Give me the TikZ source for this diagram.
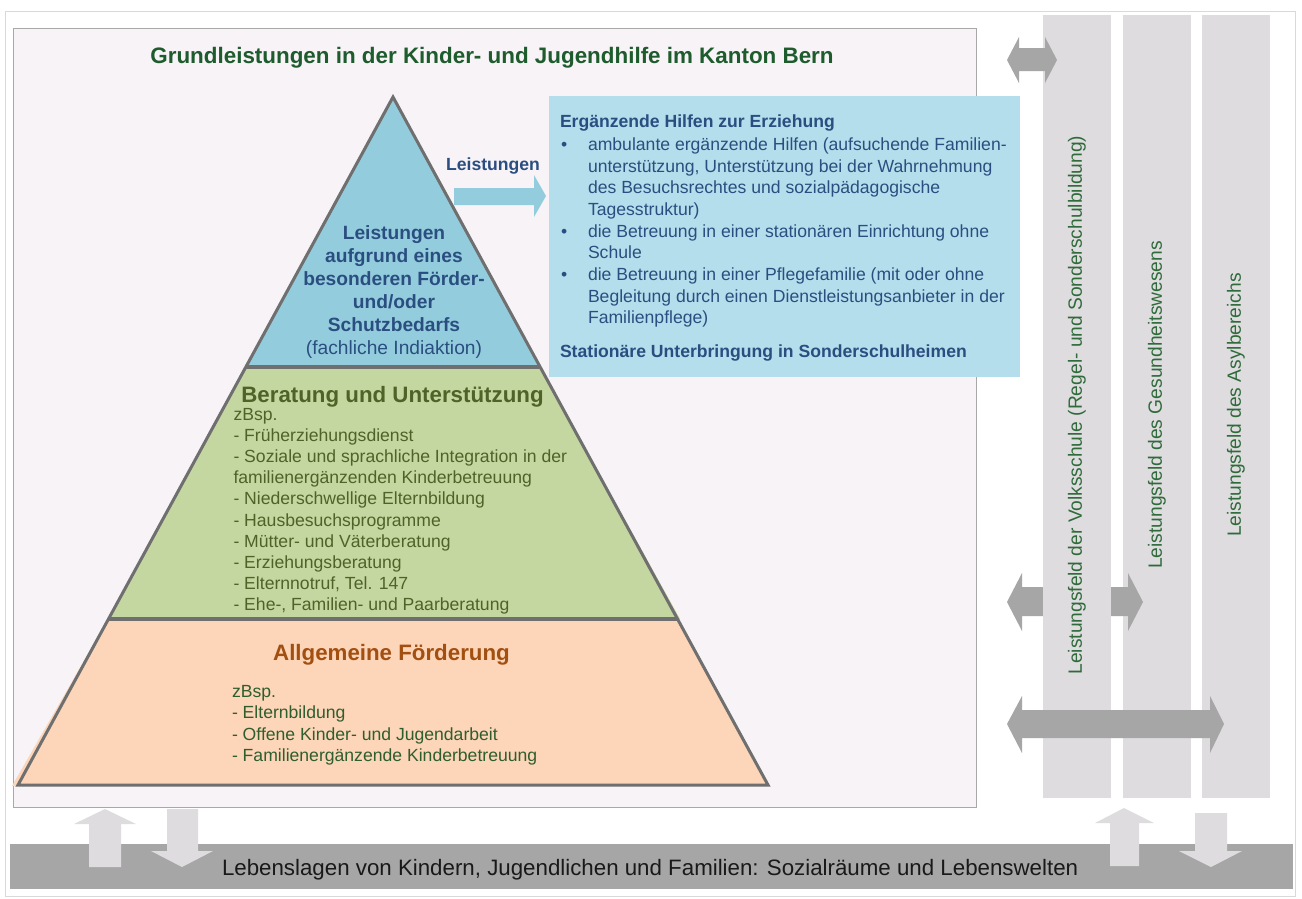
\documentclass[tikz,border=0pt]{standalone}
\usepackage{fontspec}
\setmainfont{Liberation Sans}
\definecolor{framecol}{HTML}{D9D9D9}
\definecolor{panelbg}{HTML}{F7F3F7}
\definecolor{panelline}{HTML}{A8A8A8}
\definecolor{colgray}{HTML}{DEDCDF}
\definecolor{arrgray}{HTML}{A6A6A6}
\definecolor{pyrblue}{HTML}{93CDDD}
\definecolor{pyrgreen}{HTML}{C5D7A0}
\definecolor{pyrorange}{HTML}{FDD5B8}
\definecolor{boxblue}{HTML}{B5DEEC}
\definecolor{outline}{HTML}{6F6F6F}
\definecolor{titlegreen}{HTML}{1E5B2D}
\definecolor{navy}{HTML}{2B4E80}
\definecolor{olive}{HTML}{4F6228}
\definecolor{rust}{HTML}{A24F12}
\definecolor{darkgreen}{HTML}{2E5E2E}
\definecolor{colgreen}{HTML}{2F6B3A}
\begin{document}
\begin{tikzpicture}[x=1pt,y=-1pt,
  every node/.style={inner sep=0pt,outer sep=0pt},
  bodytxt/.style={anchor=base west,font=\fontsize{17.6}{21}\selectfont},
  headtxt/.style={anchor=base,font=\fontsize{22.3}{26}\selectfont\bfseries},
  coltxt/.style={rotate=90,anchor=center,text=colgreen,font=\fontsize{19.2}{23}\selectfont},
  toptxt/.style={anchor=base,text=navy,font=\fontsize{19.2}{23}\selectfont}]
\useasboundingbox (0,0) rectangle (1302,898);
\fill[white] (0,0) rectangle (1302,898);
% outer frame and main panel
\draw[framecol,line width=1.2pt] (5.5,11.5) rectangle (1295.5,896.5);
\filldraw[fill=panelbg,draw=panelline,line width=0.8pt] (13,28) rectangle (976,807);

% neighbouring service fields (columns)
\fill[colgray] (1123,15) rectangle (1191,798);
\fill[colgray] (1202,15) rectangle (1270,798);
% arrow between the panel and the health field
\fill[arrgray] (1007,602) -- (1022,573) -- (1022,587) -- (1128,587) -- (1128,573)
  -- (1143,602) -- (1128,631) -- (1128,616) -- (1022,616) -- (1022,631) -- cycle;
\fill[colgray] (1043,15) rectangle (1111,798);
\node[coltxt] (c1) at (1077,405) {Leistungsfeld der Volksschule (Regel- und Sonderschulbildung)};
\node[coltxt] (c2) at (1157,405) {Leistungsfeld des Gesundheitswesens};
\node[coltxt] (c3) at (1236,405) {Leistungsfeld des Asylbereichs};
% arrow to the school field
\fill[arrgray] (1007,60) -- (1019,37) -- (1019,48) -- (1045,48) -- (1045,37)
  -- (1057,60) -- (1045,83) -- (1045,71) -- (1019,71) -- (1019,83) -- cycle;
% arrow across all fields
\fill[arrgray] (1007,724) -- (1022,696) -- (1022,710) -- (1210,710) -- (1210,696)
  -- (1224,724) -- (1210,753) -- (1210,738) -- (1022,738) -- (1022,753) -- cycle;

% living conditions bar
\fill[arrgray] (10,844) rectangle (1293,889);
\node[anchor=base west,text=black!90,font=\fontsize{22.3}{26}\selectfont] (life) at (222,875)
  {Lebenslagen von Kindern, Jugendlichen und Familien: Sozialräume und Lebenswelten};
% up and down arrows between bar and services
\fill[colgray] (105,809) -- (136,824) -- (121,824) -- (121,867) -- (89,867) -- (89,824) -- (74,824) -- cycle;
\fill[colgray] (167,809) -- (198,809) -- (198,851) -- (213,851) -- (182,867) -- (151,851) -- (167,851) -- cycle;
\fill[colgray] (1124,808) -- (1154,823) -- (1139,823) -- (1139,866) -- (1110,866) -- (1110,823) -- (1095,823) -- cycle;
\fill[colgray] (1195,813) -- (1227,813) -- (1227,851) -- (1242,851) -- (1211,867) -- (1179,851) -- (1195,851) -- cycle;

% title
\node[anchor=base,text=titlegreen,font=\fontsize{22.4}{26}\selectfont\bfseries] (title) at (492,63)
  {Grundleistungen in der Kinder- und Jugendhilfe im Kanton Bern};

% pyramid layers
\fill[pyrorange] (108,619) -- (12,786) -- (768,786) -- (678,619) -- cycle;
\fill[pyrgreen] (246,367) -- (108,619) -- (680,619) -- (540,367) -- cycle;
\fill[pyrblue] (393,97) -- (246,367) -- (540,367) -- cycle;
\draw[outline,line width=4pt] (246,367) -- (540,367);
\draw[outline,line width=4pt] (108,619) -- (678,619);
\draw[outline,line width=3pt,line join=miter] (393,97) -- (18,785) -- (768,785) -- cycle;

% top layer text
\foreach \t [count=\i from 0] in {Leistungen,aufgrund eines,besonderen Förder-,und/oder,Schutzbedarfs}
  \node[toptxt,font=\fontsize{19.2}{23}\selectfont\bfseries] (t\i) at (394,{239.5+23*\i}) {\t};
\node[toptxt] (t5) at (394,354.5) {(fachliche Indiaktion)};

% arrow to the complementary services
\fill[pyrblue] (454,188) -- (534,188) -- (534,175) -- (546,196) -- (534,217) -- (534,205) -- (454,205) -- cycle;
\node[anchor=base,text=navy,font=\fontsize{17.6}{21}\selectfont\bfseries] (lst) at (493,170) {Leistungen};

% complementary services box
\fill[boxblue] (549,96) rectangle (1020,377);
\begin{scope}[every node/.append style={text=navy}]
\node[bodytxt,font=\fontsize{17.6}{21}\selectfont\bfseries] (bh) at (560,127.5) {Ergänzende Hilfen zur Erziehung};
\node[bodytxt] (bu1) at (561,150.5) {•};
\node[bodytxt] (l1) at (588,150.5) {ambulante ergänzende Hilfen (aufsuchende Familien-};
\node[bodytxt] (l2) at (588,172) {unterstützung, Unterstützung bei der Wahrnehmung};
\node[bodytxt] (l3) at (588,193.5) {des Besuchsrechtes und sozialpädagogische};
\node[bodytxt] (l4) at (588,215) {Tagesstruktur)};
\node[bodytxt] (bu2) at (561,237.5) {•};
\node[bodytxt] (l5) at (588,237.5) {die Betreuung in einer stationären Einrichtung ohne};
\node[bodytxt] (l6) at (588,258.5) {Schule};
\node[bodytxt] (bu3) at (561,280.5) {•};
\node[bodytxt] (l7) at (588,280.5) {die Betreuung in einer Pflegefamilie (mit oder ohne};
\node[bodytxt] (l8) at (588,302.5) {Begleitung durch einen Dienstleistungsanbieter in der};
\node[bodytxt] (l9) at (588,323.5) {Familienpflege)};
\node[bodytxt,font=\fontsize{17.6}{21}\selectfont\bfseries] (bs) at (560,357.5) {Stationäre Unterbringung in Sonderschulheimen};
\end{scope}

% middle layer text
\node[headtxt,text=olive] (gh) at (392.5,402.5) {Beratung und Unterstützung};
\foreach \t [count=\i from 0] in {zBsp.,- Früherziehungsdienst,- Soziale und sprachliche Integration in der,
  familienergänzenden Kinderbetreuung,- Niederschwellige Elternbildung,- Hausbesuchsprogramme,
  - Mütter- und Väterberatung,- Erziehungsberatung,{- Elternnotruf, Tel. 147},{- Ehe-, Familien- und Paarberatung}}
  \node[bodytxt,text=olive] (g\i) at (233.5,{420.5+21.1*\i}) {\t};

% base layer text
\node[headtxt,text=rust] (oh) at (391.5,660.5) {Allgemeine Förderung};
\foreach \t [count=\i from 0] in {zBsp.,- Elternbildung,- Offene Kinder- und Jugendarbeit,- Familienergänzende Kinderbetreuung}
  \node[bodytxt,text=darkgreen] (o\i) at (232,{697.5+21.3*\i}) {\t};
\end{tikzpicture}
\end{document}
